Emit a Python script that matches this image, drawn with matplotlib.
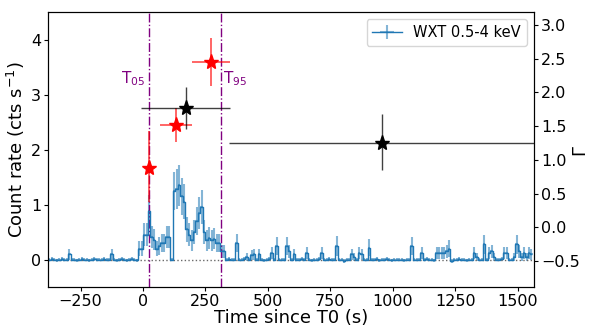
import numpy as np
import matplotlib
matplotlib.use("Agg")
import matplotlib.pyplot as plt
from matplotlib.ticker import MultipleLocator

# WXT light curve, 10 s bins (bin centres)
t_lc = np.arange(-375, 1560, 10)
rate = [
    0, 0.01, 0, -0.01, 0, 0.01, 0, 0, 0.1, 0,
    0, -0.01, 0, 0.01, 0, 0, -0.01, 0, 0.01, 0,
    0, 0, 0.01, 0, 0, 0.1, 0, -0.01, 0, 0.01,
    0, -0.01, 0, 0.01, 0, -0.01, 0.2, 0.2, 0.45, 0.45,
    0.88, 0.42, 0.36, 0.2, 0.25, 0.3, 0.3, 0.42, 0.42, 0.0,
    1.25, 1.28, 1.35, 1.15, 1.05, 0.55, 0.45, 0.35, 0.5, 0.7,
    0.85, 0.95, 0.5, 0.35, 0.4, 0.35, 0.38, 0.3, 0.3, 0.15,
    0.15, 0, 0.01, 0, 0, 0.3, 0, 0, 0.01, 0.05,
    0, 0.08, 0.1, 0, 0.1, 0, -0.01, 0, 0.01, 0.12,
    0, 0.25, 0, 0, 0, 0.25, 0.15, 0, 0.1, 0,
    0, 0.01, 0, 0.12, 0, -0.01, 0, 0, 0.01, 0.12,
    0, 0, 0.01, 0, 0, 0.25, 0, 0, -0.02, 0,
    0, 0.1, 0.05, 0, 0.12, 0.1, 0, 0, 0.22, 0,
    0, 0.01, -0.01, 0, 0, 0.01, 0, -0.01, 0, 0,
    0, 0, -0.01, 0, 0, 0.25, 0, 0, 0, 0.12,
    0, 0.01, 0, 0, -0.01, 0.12, 0.12, 0.12, 0.12, 0.15,
    0.2, -0.02, 0, 0, 0.01, 0, 0, -0.01, 0, 0,
    0.12, 0.05, 0, 0, 0.28, 0, 0.12, 0.15, 0.05, 0,
    0, 0.01, 0.12, 0.12, 0, 0, 0.05, 0.28, 0.15, 0.05,
    0.12, 0.05, 0.12, 0.1,
]
rate_err = [
    0.03, 0.03, 0.03, 0.03, 0.03, 0.03, 0.03, 0.03, 0.1, 0.03,
    0.03, 0.03, 0.03, 0.03, 0.03, 0.03, 0.03, 0.03, 0.03, 0.03,
    0.03, 0.03, 0.03, 0.03, 0.03, 0.1, 0.03, 0.03, 0.03, 0.03,
    0.03, 0.03, 0.03, 0.03, 0.03, 0.03, 0.14, 0.14, 0.21, 0.21,
    0.3, 0.2, 0.19, 0.14, 0.16, 0.17, 0.17, 0.2, 0.2, 0.03,
    0.35, 0.36, 0.37, 0.34, 0.32, 0.23, 0.21, 0.19, 0.22, 0.26,
    0.29, 0.31, 0.22, 0.19, 0.2, 0.19, 0.19, 0.17, 0.17, 0.12,
    0.12, 0.03, 0.03, 0.03, 0.03, 0.17, 0.03, 0.03, 0.03, 0.07,
    0.03, 0.09, 0.1, 0.03, 0.1, 0.03, 0.03, 0.03, 0.03, 0.11,
    0.03, 0.16, 0.03, 0.03, 0.03, 0.16, 0.12, 0.03, 0.1, 0.03,
    0.03, 0.03, 0.03, 0.11, 0.03, 0.03, 0.03, 0.03, 0.03, 0.11,
    0.03, 0.03, 0.03, 0.03, 0.03, 0.18, 0.03, 0.03, 0.04, 0.03,
    0.03, 0.1, 0.07, 0.03, 0.11, 0.1, 0.03, 0.03, 0.15, 0.03,
    0.03, 0.03, 0.03, 0.03, 0.03, 0.03, 0.03, 0.03, 0.03, 0.03,
    0.03, 0.03, 0.03, 0.03, 0.03, 0.16, 0.03, 0.03, 0.03, 0.11,
    0.03, 0.03, 0.03, 0.03, 0.03, 0.11, 0.11, 0.11, 0.11, 0.12,
    0.15, 0.04, 0.03, 0.03, 0.03, 0.03, 0.03, 0.03, 0.03, 0.03,
    0.11, 0.07, 0.03, 0.03, 0.17, 0.03, 0.11, 0.12, 0.07, 0.03,
    0.03, 0.03, 0.11, 0.11, 0.03, 0.03, 0.07, 0.17, 0.12, 0.07,
    0.11, 0.07, 0.11, 0.1,
]

# photon index from time-resolved spectra
red_t = [24, 132, 272]
red_terr = [4, 64, 76]
red_gamma = [0.88, 1.52, 2.45]
red_lo = [0.51, 0.26, 0.35]
red_hi = [0.55, 0.25, 0.36]

black_t = [172, 958]
black_terr = [178, 612]
black_gamma = [1.77, 1.25]
black_lo = [0.31, 0.40]
black_hi = [0.31, 0.43]

t05, t95 = 24, 313

fig, ax = plt.subplots(figsize=(5.93, 3.27), dpi=100)
fig.subplots_adjust(left=0.081, right=0.9005, bottom=0.122, top=0.963)

ax.errorbar(t_lc, rate, xerr=5, yerr=rate_err, color="tab:blue", lw=1,
            drawstyle="steps-mid", ecolor=(0.12, 0.47, 0.71, 0.55),
            elinewidth=1.5, label="WXT 0.5-4 keV")
ax.axhline(0, color="dimgray", ls=":", lw=1)
ax.axvline(t05, color="purple", ls="-.", lw=1)
ax.axvline(t95, color="purple", ls="-.", lw=1)
ax.text(t05 - 15, 3.29, r"T$_{05}$", color="purple", fontsize=11,
        ha="right", va="center")
ax.text(t95 + 8, 3.29, r"T$_{95}$", color="purple", fontsize=11,
        ha="left", va="center")

ax.set_xlim(-380, 1565)
ax.set_ylim(-0.5, 4.5)
ax.set_xlabel("Time since T0 (s)", fontsize=13, labelpad=0)
ax.set_ylabel(r"Count rate (cts s$^{-1}$)", fontsize=13, labelpad=3)
ax.tick_params(labelsize=11.5, pad=2, length=3)
ax.legend(loc="upper right", fontsize=10.5)

ax2 = ax.twinx()
ax2.errorbar(red_t, red_gamma, xerr=red_terr, yerr=[red_lo, red_hi], fmt="*",
             color="red", ms=11, ecolor=(1, 0, 0, 0.7), elinewidth=1.2)
ax2.errorbar(black_t, black_gamma, xerr=black_terr, yerr=[black_lo, black_hi],
             fmt="*", color="black", ms=11, ecolor=(0, 0, 0, 0.75), elinewidth=1.0)
ax2.set_ylim(-0.886, 3.19)
ax2.yaxis.set_major_locator(MultipleLocator(0.5))
ax2.set_ylabel("Γ", fontsize=13)
ax2.yaxis.set_label_coords(1.075, 0.5)
ax2.tick_params(labelsize=11.5, pad=2, length=3)

fig.savefig("out.png", dpi=100)
